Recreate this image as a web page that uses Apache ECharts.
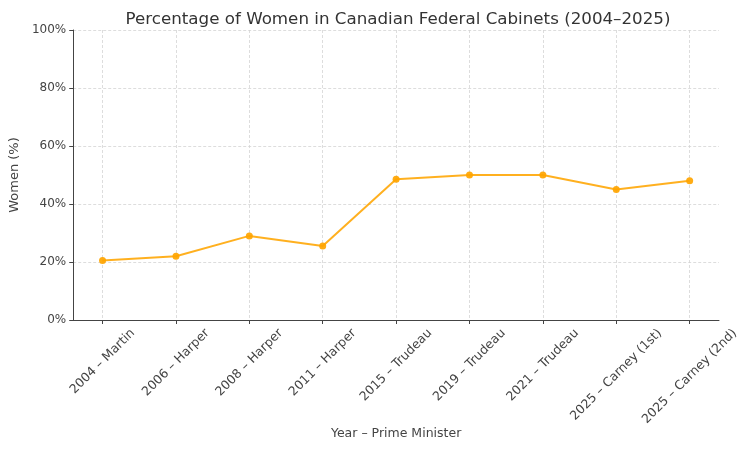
<!DOCTYPE html>
<html>
<head>
<meta charset="utf-8">
<script src="https://cdn.jsdelivr.net/npm/echarts@6/dist/echarts.min.js"></script>
<style>html,body{margin:0;padding:0;background:#fff}#c{width:754px;height:452px}</style>
</head>
<body>
<div id="c"></div>
<script>
const categories = ["2004 – Martin","2006 – Harper","2008 – Harper","2011 – Harper","2015 – Trudeau","2019 – Trudeau","2021 – Trudeau","2025 – Carney (1st)","2025 – Carney (2nd)"];
const womenPct = [20.5, 22, 29, 25.5, 48.5, 50, 50, 45, 48];
const yTicks = [0, 20, 40, 60, 80, 100];

const chart = echarts.init(document.getElementById('c'));
const idx = categories.map((_, i) => i);
const font = "DejaVu Sans";
const labelSize = 12.5;
const ctx = document.createElement('canvas').getContext('2d');
ctx.font = labelSize + 'px "DejaVu Sans"';
const measure = t => ctx.measureText(t).width;

chart.setOption({
  animation: false,
  title: {
    text: "Percentage of Women in Canadian Federal Cabinets (2004–2025)",
    left: 393, top: 6, textAlign: 'center',
    textStyle: {fontFamily: font, fontSize: 16.7, fontWeight: 'normal', color: '#333'}
  },
  grid: {left: 68, right: 35, top: 30, bottom: 132, containLabel: false},
  xAxis: {
    type: 'value', min: -0.4, max: 8.4,
    name: "Year – Prime Minister", nameLocation: 'middle', nameGap: 107,
    nameTextStyle: {fontFamily: font, fontSize: 12.5, color: '#444'},
    axisLine: {show: true, onZero: false, lineStyle: {color: '#444', width: 1}},
    axisTick: {show: true, customValues: idx, length: 4, lineStyle: {color: '#444'}},
    axisLabel: {show: false, customValues: idx},
    splitLine: {show: true, lineStyle: {color: '#d4d4d4', type: [3, 2], width: 0.8}}
  },
  yAxis: {
    type: 'value', min: 0, max: 100, interval: 20,
    name: "Women (%)", nameLocation: 'middle', nameGap: 47,
    nameTextStyle: {fontFamily: font, fontSize: 13, color: '#444'},
    axisLine: {show: true, onZero: false, lineStyle: {color: '#444', width: 1}},
    axisTick: {show: true, length: 4, lineStyle: {color: '#444'}},
    axisLabel: {fontFamily: font, fontSize: 12, color: '#444', margin: 7,
      formatter: v => yTicks.includes(v) ? v + '%' : ''},
    splitLine: {show: true, lineStyle: {color: '#d4d4d4', type: [3, 2], width: 0.8}}
  },
  series: [{
    type: 'line',
    data: womenPct.map((v, i) => [i, v]),
    symbol: 'circle', symbolSize: 7,
    lineStyle: {color: 'rgba(255,165,0,0.88)', width: 2},
    itemStyle: {color: 'rgba(255,165,0,0.92)'},
    z: 3
  }, {
    type: 'custom',
    silent: true,
    clip: false,
    data: idx.map(i => [i, 0]),
    renderItem: (params, api) => {
      const i = api.value(0);
      const p = api.coord([i, 0]);
      const text = categories[i];
      const w = measure(text);
      const h = labelSize * 1.17;
      const half = (w + h) / (2 * Math.SQRT2);
      return {
        type: 'text',
        x: p[0], y: p[1] + 6 + half,
        rotation: Math.PI / 4,
        style: {text, fontFamily: font, fontSize: labelSize, fill: '#444',
          align: 'center', verticalAlign: 'middle'}
      };
    }
  }]
});
</script>
</body>
</html>
